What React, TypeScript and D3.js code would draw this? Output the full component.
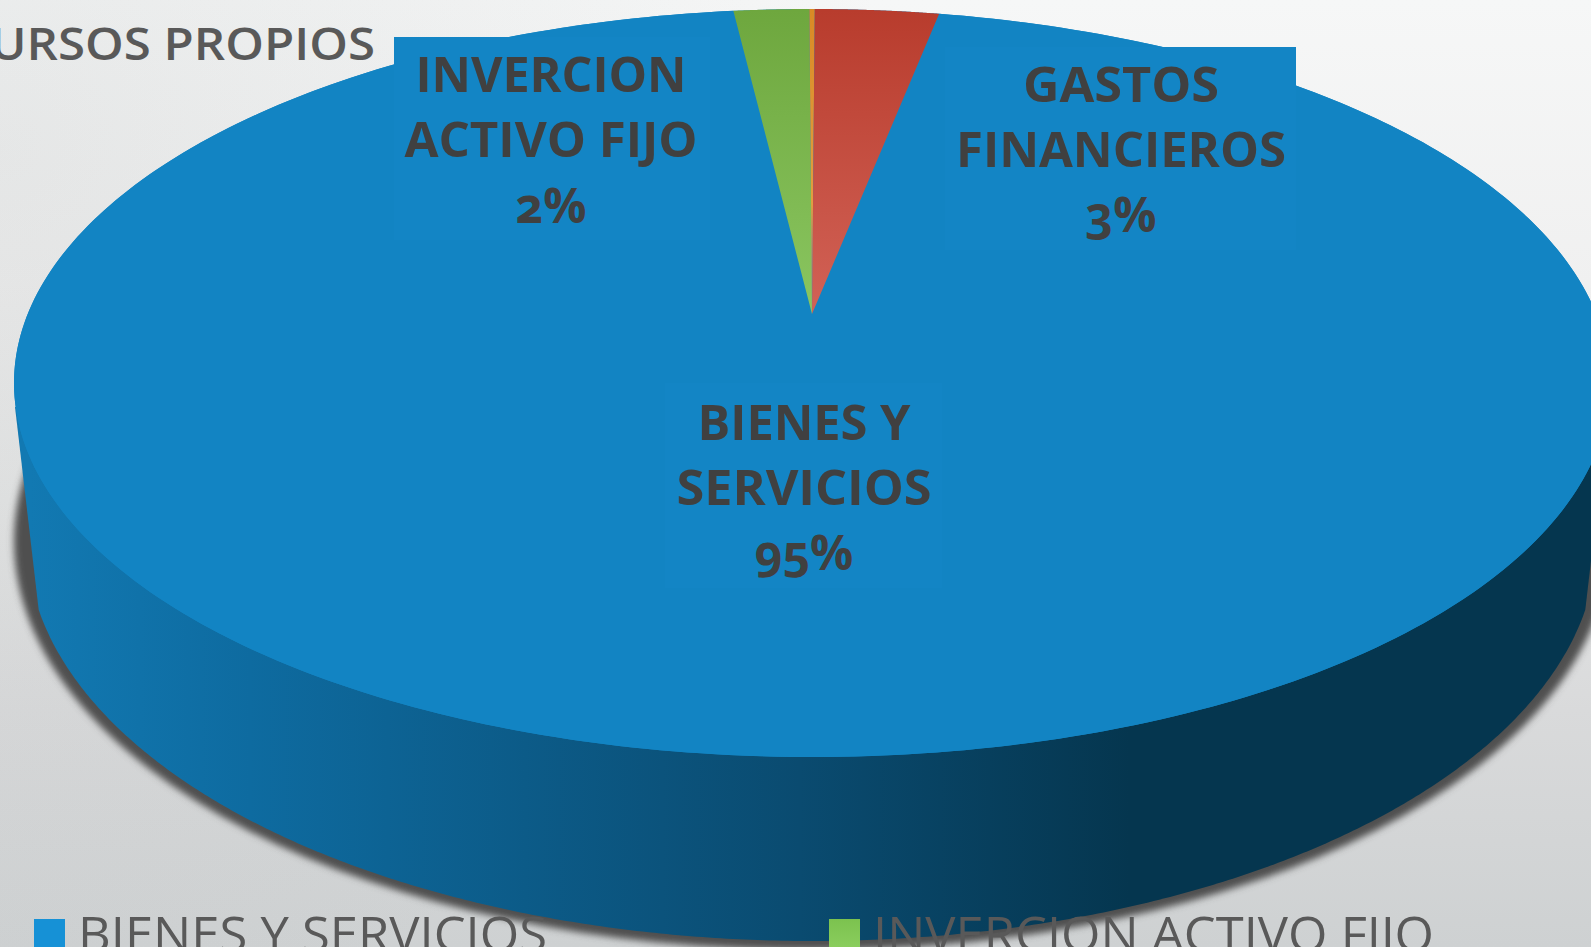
import React from "react";
import * as d3 from "d3";

const categories = ["BIENES Y SERVICIOS", "INVERCION ACTIVO FIJO", "OTROS", "GASTOS FINANCIEROS"];
const values = [95.04, 1.83, 0.13, 3.0];
const sliceFills = ["url(#blueTop)", "url(#greenTop)", "url(#orangeTop)", "url(#redTop)"];
const legendLabels = ["BIENES Y SERVICIOS", "INVERCION ACTIVO FIJO"];
const legendColors = ["#1691d6", "url(#greenLegend)"];
const title = "RECURSOS PROPIOS";
const labelLines = [["BIENES Y", "SERVICIOS", "95%"], ["INVERCION", "ACTIVO FIJO", "2%"], ["GASTOS", "FINANCIEROS", "3%"]];

const W = 1591, H = 947;
const top = { cx: 812, cy: 383, rx: 798, ry: 374, ax: 812, ay: 314 };
const bottom = { cx: 812, cy: 541, rx: 785, ry: 400 };
const deg = Math.PI / 180;
const FONT = "'Open Sans', sans-serif";

// Perspective: the apex sits above the ellipse centre, so true pie angles are
// squeezed on the far side of the rim and stretched on the near side.
const e = (top.cy - top.ay) / top.ry;
const k = Math.sqrt((1 - e) / (1 + e));
const warp = (t: number) => 2 * Math.atan2(k * Math.sin(t / 2), Math.cos(t / 2));

const pie = d3.pie<number>().sort(null).value((d) => d)
  .startAngle(11.04 * deg).endAngle(371.04 * deg);
const arcs = pie(values);
const rim = (a: number): [number, number] => [top.cx + top.rx * Math.sin(a), top.cy - top.ry * Math.cos(a)];
const low = (a: number): [number, number] => [bottom.cx + bottom.rx * Math.sin(a), bottom.cy - bottom.ry * Math.cos(a)];
const line = d3.line();
const steps = (a: number, b: number) => d3.range(0, 361).map((i) => a + ((b - a) * i) / 360);
const slicePath = (a: number, b: number) =>
  line([[top.ax, top.ay], ...steps(a, b).map((t) => rim(warp(t))), [top.ax, top.ay]]) + "Z";
const topEllipse = line(steps(0, 2 * Math.PI).map(rim)) + "Z";
const wallStart = 99.9 * deg;
const wallPath = line([
  [top.cx + 797, 407],
  ...steps(wallStart, 2 * Math.PI - wallStart).map(low),
  [top.cx - 797, 407],
]) + "Z";

const labelLayout = [
  { box: [665, 383, 277, 205], x: 804, y: [440, 505, 570], w: [213, 255, 0] },
  { box: [394, 37, 316, 203], x: 551, y: [92, 157, 223], w: [271, 293, 0] },
  { box: [945, 47, 351, 203], x: 1121, y: [102, 167, 232], w: [196, 330, 0] },
];
const legendLayout = [{ sx: 34, tx: 78, w: 469 }, { sx: 829, tx: 873, w: 561 }];

export default function App() {
  return (
    <svg width={W} height={H} viewBox={`0 0 ${W} ${H}`}
      style={{ position: "absolute", left: 0, top: 0, display: "block" }}>
      <defs>
        <linearGradient id="bg" x1="0" y1="0" x2="0" y2="1">
          <stop offset="0" stopColor="#f6f7f7" />
          <stop offset="0.3" stopColor="#f0f0f0" />
          <stop offset="0.55" stopColor="#e4e5e5" />
          <stop offset="0.75" stopColor="#d9dadb" />
          <stop offset="1" stopColor="#ced1d2" />
        </linearGradient>
        <radialGradient id="bgLeft" gradientUnits="userSpaceOnUse" cx="0" cy="150" r="900">
          <stop offset="0" stopColor="#6a7474" stopOpacity="0.1" />
          <stop offset="1" stopColor="#6a7474" stopOpacity="0" />
        </radialGradient>
        <linearGradient id="wall" gradientUnits="userSpaceOnUse" x1="30" y1="0" x2="1130" y2="0">
          <stop offset="0" stopColor="#1279b2" />
          <stop offset="0.2" stopColor="#0e6ba0" />
          <stop offset="0.7" stopColor="#0a4b70" />
          <stop offset="1" stopColor="#05364f" />
        </linearGradient>
        <linearGradient id="blueTop" gradientUnits="userSpaceOnUse" x1="0" y1="10" x2="0" y2="757">
          <stop offset="0" stopColor="#1284c3" />
          <stop offset="1" stopColor="#1284c3" />
        </linearGradient>
        <linearGradient id="redTop" gradientUnits="userSpaceOnUse" x1="0" y1="10" x2="0" y2="314">
          <stop offset="0" stopColor="#b83c2d" />
          <stop offset="1" stopColor="#d26256" />
        </linearGradient>
        <linearGradient id="greenTop" gradientUnits="userSpaceOnUse" x1="0" y1="10" x2="0" y2="314">
          <stop offset="0" stopColor="#6ea73e" />
          <stop offset="1" stopColor="#8ac660" />
        </linearGradient>
        <linearGradient id="orangeTop" gradientUnits="userSpaceOnUse" x1="0" y1="10" x2="0" y2="314">
          <stop offset="0" stopColor="#d98a25" />
          <stop offset="1" stopColor="#e8a850" />
        </linearGradient>
        <linearGradient id="greenLegend" x1="0" y1="0" x2="0" y2="1">
          <stop offset="0" stopColor="#7cc24f" />
          <stop offset="1" stopColor="#90d263" />
        </linearGradient>
        <filter id="blur" x="-5%" y="-5%" width="110%" height="110%">
          <feGaussianBlur stdDeviation="3.5" />
        </filter>
      </defs>
      <rect width={W} height={H} fill="url(#bg)" />
      <rect width={W} height={H} fill="url(#bgLeft)" />

      <text transform="translate(375,60) scale(1.07,1)" textAnchor="end" fontFamily={FONT} fontWeight={600} fontSize={46} fill="#595959">{title}</text>

      <ellipse cx={bottom.cx} cy={bottom.cy} rx={bottom.rx + 13} ry={bottom.ry + 9} fill="#4f4f4f" filter="url(#blur)" />
      <path d={wallPath} fill="url(#wall)" />
      <path d={topEllipse} fill="#1284c3" />
      {arcs.map((a, i) => (
        <path key={categories[i]} d={slicePath(a.startAngle, a.endAngle)} fill={sliceFills[i]} />
      ))}

      {labelLines.map((lines, i) => {
        const l = labelLayout[i];
        return (
          <g key={lines[0]}>
            <rect x={l.box[0]} y={l.box[1]} width={l.box[2]} height={l.box[3]} fill="#1385c5" />
            {lines.map((t, j) => (
              <text key={t} x={l.x} y={l.y[j]} textAnchor="middle" fontFamily={FONT} fontWeight={700}
                fontSize={48} fill="#404040"
                textLength={l.w[j] || undefined} lengthAdjust={l.w[j] ? "spacingAndGlyphs" : undefined}
                style={{ fontFeatureSettings: '"onum"' }}>{t}</text>
            ))}
          </g>
        );
      })}

      {legendLabels.map((t, i) => (
        <g key={t}>
          <rect x={legendLayout[i].sx} y={919} width={31} height={40} fill={legendColors[i]} />
          <text x={legendLayout[i].tx} y={952} fontFamily={FONT} fontWeight={400} fontSize={50} fill="#595959"
            textLength={legendLayout[i].w} lengthAdjust="spacingAndGlyphs">{t}</text>
        </g>
      ))}
    </svg>
  );
}
